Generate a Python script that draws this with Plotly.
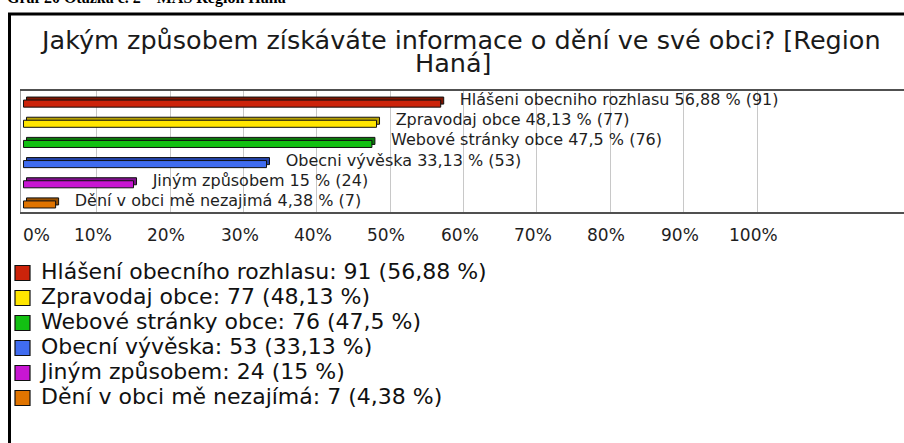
import plotly.graph_objects as go

# ---------------- data ----------------
categories = ["Hlášení obecního rozhlasu", "Zpravodaj obce", "Webové stránky obce",
              "Obecní vývěska", "Jiným způsobem", "Dění v obci mě nezajímá"]
bar_label_names = ["Hlášeni obecniho rozhlasu", "Zpravodaj obce", "Webové stránky obce",
                   "Obecni vývěska", "Jiným způsobem", "Dění v obci mě nezajimá"]
counts = [91, 77, 76, 53, 24, 7]
percents = [56.88, 48.13, 47.5, 33.13, 15, 4.38]
tick_values = [0, 10, 20, 30, 40, 50, 60, 70, 80, 90, 100]
tick_labels = [f"{v}%" for v in tick_values]
title_lines = ["Jakým způsobem získáváte informace o dění ve své obci? [Region", "Haná]"]
header_text = "Graf 20 Otázka č. 2 – MAS Region Haná"

front_colors = ["#CC230A", "#FFE600", "#12C012", "#406CF0", "#C816D2", "#E07400"]
back_colors = ["#7E1400", "#B8A200", "#0B7A0B", "#2444A8", "#7E108A", "#985000"]

# ---------------- layout helpers ----------------
W, H = 904, 443
def px(x):
    return x / W
def py(y):
    return 1 - y / H
def cz(v):
    return f"{v:g}".replace(".", ",")

FONT = "DejaVu Sans"
x_range = [-0.34, 120.04]
plot_left, plot_top, plot_bottom = 21, 91, 212
px_per_unit = (W - plot_left) / (x_range[1] - x_range[0])
depth = 3 / px_per_unit  # 3-D depth of the bars in axis units

bar_labels = [f"{n} {cz(p)} % ({c})" for n, p, c in zip(bar_label_names, percents, counts)]
legend_labels = [f"{n}: {c} ({cz(p)} %)" for n, p, c in zip(categories, percents, counts)]

fig = go.Figure()

# back (top face) of 3-D bars
fig.add_trace(go.Bar(
    x=percents, y=categories, base=depth, orientation="h",
    width=0.35, offset=-0.2,
    marker=dict(color=back_colors, line=dict(color="#111111", width=1)),
    hoverinfo="skip", showlegend=False))
# front bars
fig.add_trace(go.Bar(
    x=percents, y=categories, orientation="h",
    width=0.35, offset=-0.05,
    marker=dict(color=front_colors, line=dict(color="#111111", width=1)),
    hoverinfo="skip", showlegend=False))
# bar value labels
fig.add_trace(go.Scatter(
    x=percents, y=categories, mode="markers+text", text=bar_labels,
    textposition="middle right",
    textfont=dict(family=FONT, size=16, color="#1e1e1e"),
    marker=dict(size=29, color="rgba(0,0,0,0)"),
    cliponaxis=False, hoverinfo="skip", showlegend=False))

# custom legend: swatches + texts
fig.add_trace(go.Scatter(
    x=[0] * len(categories), y=categories, xaxis="x2", yaxis="y2",
    mode="markers",
    marker=dict(symbol="square", size=15, color=front_colors,
                line=dict(color="#111111", width=1.2)),
    cliponaxis=False, hoverinfo="skip", showlegend=False))
fig.add_trace(go.Scatter(
    x=[0] * len(categories), y=categories, xaxis="x2", yaxis="y2",
    mode="markers+text", text=legend_labels, textposition="middle right",
    textfont=dict(family=FONT, size=22, color="#111111"),
    marker=dict(size=28, color="rgba(0,0,0,0)"),
    cliponaxis=False, hoverinfo="skip", showlegend=False))

annotations = []
# header (partially cut at the top)
annotations.append(dict(
    text=f"<b>{header_text}</b>", x=px(5), y=py(-1.5), xref="paper", yref="paper",
    xanchor="left", yanchor="middle", showarrow=False,
    font=dict(family="Liberation Serif", size=16, color="#000000")))
# title lines
for line, cx, cy in zip(title_lines, [460, 453], [40.5, 62.5]):
    annotations.append(dict(
        text=line, x=px(cx), y=py(cy), xref="paper", yref="paper",
        xanchor="center", yanchor="middle", showarrow=False,
        font=dict(family=FONT, size=25.5, color="#1a1a1a")))
# tick labels
for v, lab in zip(tick_values, tick_labels):
    annotations.append(dict(
        text=lab, x=v, y=py(235), xref="x", yref="paper",
        xanchor="left" if v == 0 else "center",
        xshift=-2 if v == 0 else -4,
        yanchor="middle", showarrow=False,
        font=dict(family=FONT, size=17, color="#1e1e1e")))

fig.update_layout(
    width=W, height=H,
    margin=dict(l=0, r=0, t=0, b=0),
    paper_bgcolor="white", plot_bgcolor="white",
    barmode="overlay", showlegend=False,
    xaxis=dict(domain=[px(plot_left), 1], range=x_range,
               tickvals=tick_values[1:], showticklabels=False, ticks="",
               showgrid=True, gridcolor="#c8c8c8", gridwidth=1,
               zeroline=False, showline=True, mirror=True,
               linecolor="#505050", linewidth=2, fixedrange=True),
    yaxis=dict(domain=[py(plot_bottom), py(plot_top)], type="category",
               categoryorder="array", categoryarray=categories,
               range=[len(categories) - 0.5, -0.5],
               showticklabels=False, ticks="", showgrid=False, zeroline=False,
               showline=True, linecolor="#a0a0a0", linewidth=1, fixedrange=True),
    xaxis2=dict(domain=[px(22.5), 1], range=[0, 1], visible=False,
                anchor="y2", fixedrange=True),
    yaxis2=dict(domain=[py(410.5), py(260.5)], type="category",
                categoryorder="array", categoryarray=categories,
                range=[len(categories) - 0.5, -0.5], visible=False,
                anchor="x2", fixedrange=True),
    annotations=annotations,
    shapes=[dict(type="rect", xref="paper", yref="paper",
                 x0=px(9.5), y0=py(14), x1=1.2, y1=-0.2,
                 line=dict(color="#000000", width=3), layer="above")],
)

fig.write_html("out.html", config={"displayModeBar": False},
               post_script="document.body.style.margin='0';")
